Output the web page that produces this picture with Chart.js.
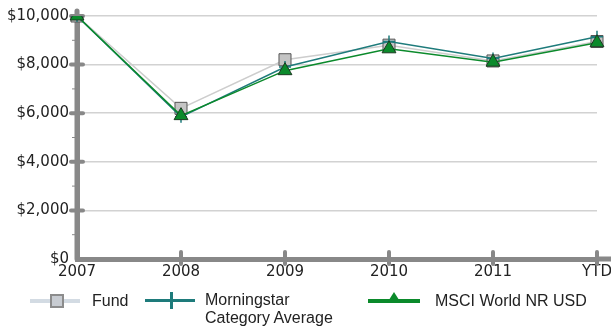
<!DOCTYPE html>
<html>
<head>
<meta charset="utf-8">
<script src="https://cdn.jsdelivr.net/npm/chart.js@4/dist/chart.umd.min.js"></script>
<style>
  body { margin: 0; background: #fff; }
  #wrap { position: relative; width: 611px; height: 326px; }
  .lg { position: absolute; font-family: "Liberation Sans", Arial, sans-serif; font-size: 16px; line-height: 18px; color: #222; }
  .ln { position: absolute; }
</style>
</head>
<body>
<div id="wrap">
  <canvas id="growthChart" width="611" height="326"></canvas>

  <!-- legend: Fund -->
  <div class="ln" style="left:30px;top:299px;width:50px;height:4px;background:#d3dbe3"></div>
  <div class="ln" style="left:50px;top:294px;width:10px;height:10px;background:#c8ccd2;border:2px solid #8c8c8c"></div>
  <div class="lg" style="left:92px;top:292px">Fund</div>

  <!-- legend: Category Average -->
  <div class="ln" style="left:145px;top:299px;width:50px;height:3px;background:#1e7b7b"></div>
  <div class="ln" style="left:170px;top:292px;width:3px;height:17px;background:#1e7b7b"></div>
  <div class="lg" style="left:205px;top:291px">Morningstar<br>Category Average</div>

  <!-- legend: MSCI -->
  <div class="ln" style="left:368px;top:299px;width:52px;height:4px;background:#0b8a2b"></div>
  <div class="ln" style="left:387px;top:292px;width:0;height:0;border-left:7px solid transparent;border-right:7px solid transparent;border-bottom:11px solid #0b8a2b"></div>
  <div class="lg" style="left:435px;top:292px">MSCI World NR USD</div>
</div>

<script>
// growth of $10,000
const years = ["2007", "2008", "2009", "2010", "2011", "YTD"];
const fundValues = [10000, 6200, 8200, 8800, 8150, 8950];
const categoryValues = [10000, 5850, 7900, 8950, 8250, 9150];
const msciValues = [10000, 5900, 7750, 8650, 8100, 8900];
const yTicks = [0, 2000, 4000, 6000, 8000, 10000];

const axisGray = "#888888";

// thick tick stubs across the axes, like the original
const axisStubs = {
  id: "axisStubs",
  beforeDatasetsDraw(chart) {
    const ctx = chart.ctx;
    const area = chart.chartArea;
    const x = chart.scales.x;
    const y = chart.scales.y;
    ctx.save();
    ctx.strokeStyle = axisGray;
    ctx.lineCap = "round";

    // extend bottom axis to the canvas edge and left axis a bit above
    ctx.lineWidth = 5;
    ctx.beginPath();
    ctx.moveTo(area.right, area.bottom);
    ctx.lineTo(chart.width, area.bottom);
    ctx.moveTo(area.left, area.bottom);
    ctx.lineTo(area.left, area.top - 5);
    ctx.stroke();

    // major y stubs
    ctx.lineWidth = 4;
    yTicks.forEach(v => {
      if (v === 0) return;
      const py = y.getPixelForValue(v);
      ctx.beginPath();
      ctx.moveTo(area.left - 6, py);
      ctx.lineTo(area.left + 6, py);
      ctx.stroke();
    });
    // minor y ticks
    ctx.lineWidth = 1;
    ctx.lineCap = "butt";
    for (let i = 0; i < yTicks.length - 1; i++) {
      const py = y.getPixelForValue((yTicks[i] + yTicks[i + 1]) / 2);
      ctx.beginPath();
      ctx.moveTo(area.left - 5, py);
      ctx.lineTo(area.left, py);
      ctx.stroke();
    }
    // x stubs
    ctx.lineWidth = 4;
    ctx.lineCap = "round";
    years.forEach((lab, i) => {
      if (i === 0) return;
      const px = x.getPixelForValue(i);
      ctx.beginPath();
      ctx.moveTo(px, area.bottom - 7);
      ctx.lineTo(px, area.bottom + 5);
      ctx.stroke();
    });
    ctx.restore();
  }
};

const ctx = document.getElementById("growthChart").getContext("2d");
new Chart(ctx, {
  type: "line",
  data: {
    labels: years,
    datasets: [
      {
        label: "MSCI World NR USD",
        data: msciValues,
        order: 0,
        borderColor: "#0b8a2b",
        borderWidth: 1.5,
        pointStyle: "triangle",
        pointRadius: 8,
        pointBackgroundColor: "#0b8a2b",
        pointBorderColor: "#1c3a22",
        pointBorderWidth: 1,
        tension: 0
      },
      {
        label: "Morningstar Category Average",
        data: categoryValues,
        order: 1,
        borderColor: "#1e7b7b",
        borderWidth: 1.5,
        pointStyle: "cross",
        pointRadius: 6,
        pointBorderColor: "#1e7b7b",
        pointBorderWidth: 1.5,
        tension: 0
      },
      {
        label: "Fund",
        data: fundValues,
        order: 2,
        borderColor: "#cdcdcd",
        borderWidth: 1.5,
        pointStyle: "rect",
        pointRadius: 8.5,
        pointBackgroundColor: "#c4c4c4",
        pointBorderColor: "#555555",
        pointBorderWidth: 1,
        tension: 0
      }
    ]
  },
  options: {
    responsive: false,
    animation: false,
    layout: { padding: { top: 16, right: 14, bottom: 37, left: 0 } },
    plugins: {
      legend: { display: false },
      tooltip: { enabled: false }
    },
    scales: {
      x: {
        offset: false,
        afterFit: s => { s.height = 30; s.paddingLeft = 0; s.paddingRight = 0; },
        grid: { display: false, drawTicks: false },
        border: { color: axisGray, width: 5 },
        ticks: {
          padding: 4,
          maxRotation: 0,
          autoSkip: false,
          color: "#222",
          font: { family: "DejaVu Sans", size: 15 }
        }
      },
      y: {
        min: 0,
        max: 10000,
        afterFit: s => { s.width = 77; s.paddingTop = 0; s.paddingBottom = 0; },
        grid: {
          drawTicks: false,
          color: ctx => ctx.tick && ctx.tick.value === 0 ? "rgba(0,0,0,0)" : "#d2d2d2",
          lineWidth: 1.5
        },
        border: { color: axisGray, width: 5 },
        ticks: {
          stepSize: 2000,
          padding: 8,
          color: "#222",
          font: { family: "DejaVu Sans", size: 15 },
          callback: v => "$" + v.toLocaleString("en-US")
        }
      }
    }
  },
  plugins: [axisStubs]
});
</script>
</body>
</html>
